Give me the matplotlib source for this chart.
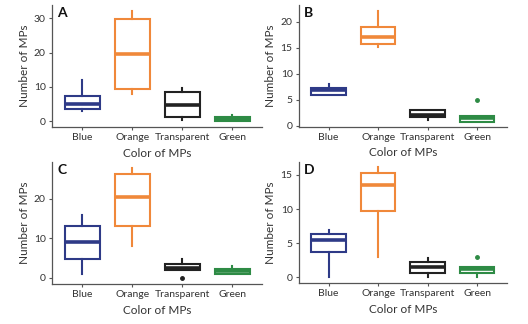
import matplotlib
matplotlib.use("Agg")
import matplotlib.pyplot as plt

categories = ["Blue", "Orange", "Transparent", "Green"]
colors = ["#2e3a87", "#f0883a", "#222222", "#2e8b45"]

# Panel A
a_whislo = [3.0, 8.0, 0.2, 0.0]
a_q1 = [3.6, 9.4, 1.3, 0.0]
a_med = [4.9, 19.6, 4.8, 0.5]
a_q3 = [7.4, 29.9, 8.5, 1.3]
a_whishi = [12.0, 32.2, 9.8, 1.8]
a_fliers = [[], [], [], []]

# Panel B
b_whislo = [5.8, 15.1, 1.15, 0.7]
b_q1 = [5.8, 15.7, 1.6, 0.7]
b_med = [6.9, 17.05, 2.05, 1.4]
b_q3 = [7.2, 19.0, 2.95, 1.9]
b_whishi = [8.0, 22.0, 2.95, 1.9]
b_fliers = [[], [], [], [5.0]]

# Panel C
c_whislo = [1.0, 8.0, 2.1, 0.9]
c_q1 = [4.7, 13.1, 2.1, 0.9]
c_med = [9.1, 20.4, 2.6, 1.8]
c_q3 = [13.0, 26.3, 3.4, 2.3]
c_whishi = [15.8, 27.9, 4.8, 2.9]
c_fliers = [[], [], [0.0], []]

# Panel D
d_whislo = [0.0, 3.0, 0.0, 0.0]
d_q1 = [3.76, 9.7, 0.7, 0.7]
d_med = [5.5, 13.6, 1.5, 1.2]
d_q3 = [6.3, 15.3, 2.2, 1.5]
d_whishi = [6.9, 16.1, 2.9, 1.5]
d_fliers = [[], [], [], [3.0]]

y_ticks_a = [0, 10, 20, 30]
y_ticks_b = [0, 5, 10, 15, 20]
y_ticks_c = [0, 10, 20]
y_ticks_d = [0, 5, 10, 15]

plt.rcParams['font.family'] = ['Lato', 'DejaVu Sans']

fig = plt.figure(figsize=(5.28, 3.24), dpi=100)

panels = [
    ("A", [0.0985, 0.608, 0.398, 0.377], a_whislo, a_q1, a_med, a_q3, a_whishi, a_fliers, y_ticks_a, (-1.7, 33.9)),
    ("B", [0.566, 0.609, 0.394, 0.376], b_whislo, b_q1, b_med, b_q3, b_whishi, b_fliers, y_ticks_b, (-0.2, 23.2)),
    ("C", [0.0985, 0.124, 0.398, 0.376], c_whislo, c_q1, c_med, c_q3, c_whishi, c_fliers, y_ticks_c, (-1.5, 29.3)),
    ("D", [0.566, 0.127, 0.394, 0.373], d_whislo, d_q1, d_med, d_q3, d_whishi, d_fliers, y_ticks_d, (-0.8, 16.9)),
]

for letter, rect, wlo, q1, med, q3, whi, fl, yt, ylim in panels:
    ax = fig.add_axes(rect)
    stats = []
    for i in range(4):
        stats.append(dict(whislo=wlo[i], q1=q1[i], med=med[i], q3=q3[i],
                          whishi=whi[i], fliers=fl[i], label=categories[i]))
    pos = [1, 2, 3, 4]
    for i in range(4):
        c = colors[i]
        ax.bxp([stats[i]], positions=[pos[i]], widths=0.7, patch_artist=True,
               showcaps=False,
               boxprops=dict(facecolor="white", edgecolor=c, linewidth=1.5),
               whiskerprops=dict(color=c, linewidth=1.5),
               medianprops=dict(color=c, linewidth=2.6),
               flierprops=dict(marker="o", markersize=2.5, markerfacecolor=c,
                               markeredgecolor=c))
    ax.set_xlim(0.4, 4.6)
    ax.set_ylim(*ylim)
    ax.set_xticks(pos)
    ax.set_xticklabels(categories)
    ax.set_yticks(yt)
    for s in ["top", "right"]:
        ax.spines[s].set_visible(False)
    for s in ["left", "bottom"]:
        ax.spines[s].set_color("#555555")
        ax.spines[s].set_linewidth(0.9)
    ax.tick_params(axis="both", labelsize=7.5, colors="#555555", length=2.5,
                   width=0.8, labelcolor="#333333", pad=2)
    ax.set_xlabel("Color of MPs", fontsize=8.5, color="#333333", labelpad=4)
    ax.set_ylabel("Number of MPs", fontsize=8.5, color="#333333", labelpad=3)
    ax.text(0.025, 0.985, letter, transform=ax.transAxes, fontsize=10,
            fontweight="bold", va="top", ha="left", color="#111111")

fig.savefig("out.png", dpi=100)
